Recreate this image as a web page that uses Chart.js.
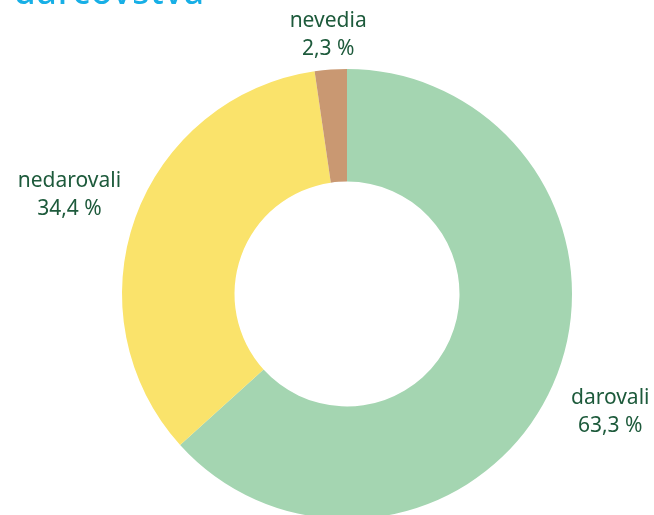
<!DOCTYPE html>
<html>
<head>
<meta charset="utf-8">
<script src="https://cdn.jsdelivr.net/npm/chart.js@4"></script>
<style>
  html, body { margin: 0; padding: 0; background: #fff; overflow: hidden; }
  #wrap { position: relative; width: 654px; height: 530px; }
  #title { position: absolute; left: 14px; top: -33px; margin: 0;
           font: 500 35px "Noto Sans", sans-serif; color: #17afe6; letter-spacing: 1px; }
</style>
</head>
<body>
<div id="wrap">
  <canvas id="pieChart" width="654" height="530"></canvas>
  <div id="title">darcovstva</div>
</div>
<script>
let labels = ['darovali', 'nedarovali', 'nevedia'];
let values = [63.3, 34.4, 2.3];
let valueLabels = ['63,3 %', '34,4 %', '2,3 %'];
let colors = ['#a4d5b1', '#fae36b', '#c99872'];
let labelOffsets = [63, 70, 36];

let outsideLabels = {
    id: 'outsideLabels',
    afterDatasetsDraw(chart) {
        let ctx = chart.ctx;
        let arcs = chart.getDatasetMeta(0).data;
        ctx.save();
        ctx.fillStyle = '#1d5a3b';
        ctx.textAlign = 'center';
        ctx.textBaseline = 'middle';
        ctx.font = '21px "Noto Sans", sans-serif';
        for (let i = 0; i < arcs.length; i++) {
            let a = arcs[i];
            let mid = (a.startAngle + a.endAngle) / 2;
            let r = a.outerRadius + labelOffsets[i];
            let x = a.x + Math.cos(mid) * r;
            let y = a.y + Math.sin(mid) * r;
            ctx.fillText(labels[i], x, y - 13);
            ctx.fillText(valueLabels[i], x, y + 15);
        }
        ctx.restore();
    }
};

let ctx = document.getElementById('pieChart').getContext('2d');
let chart = new Chart(ctx, {
    type: 'doughnut',
    data: {
        labels: labels,
        datasets: [{
            data: values,
            backgroundColor: colors,
            borderWidth: 0
        }]
    },
    options: {
        responsive: false,
        animation: false,
        cutout: '50%',
        layout: { padding: { left: 122, right: 82, top: 69, bottom: 11 } },
        plugins: {
            legend: { display: false },
            tooltip: { enabled: false }
        }
    },
    plugins: [outsideLabels]
});
</script>
</body>
</html>
